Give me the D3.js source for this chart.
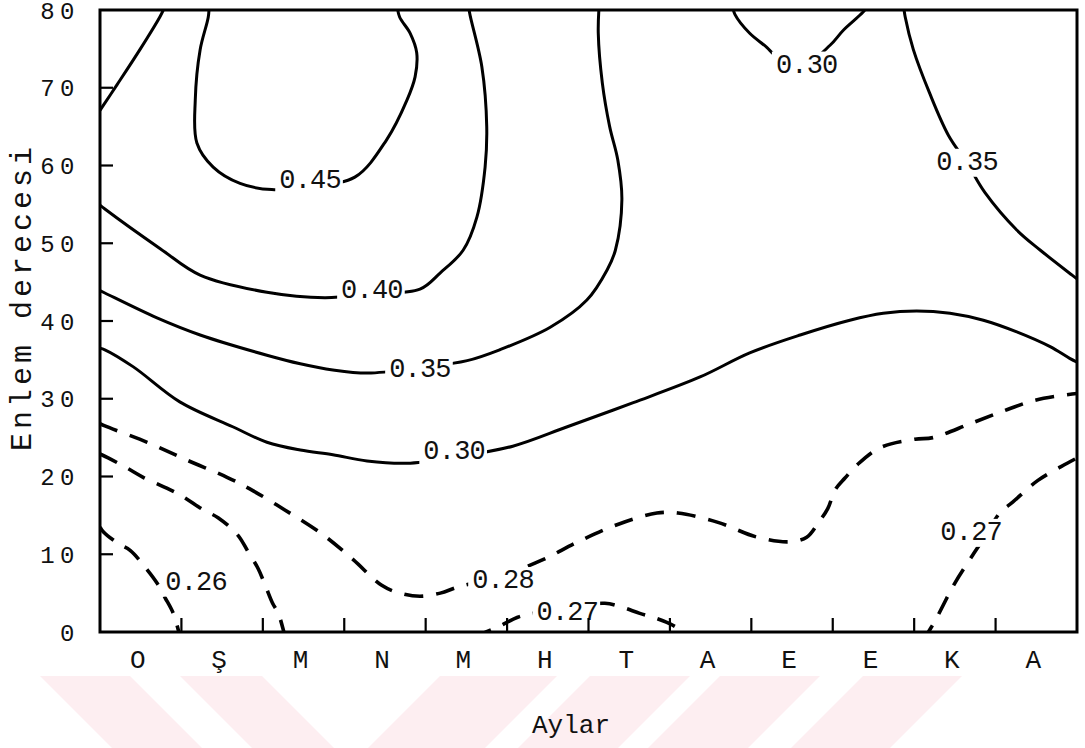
<!DOCTYPE html>
<html>
<head>
<meta charset="utf-8">
<script src="https://cdn.jsdelivr.net/npm/d3@7"></script>
<style>
  html, body { margin: 0; background: #fff; }
  svg { display: block; }
</style>
</head>
<body>
<svg id="chart" width="1085" height="748"></svg>
<script>
// Month initials, October through September
const months = ["O", "Ş", "M", "N", "M", "H", "T", "A", "E", "E", "K", "A"];
const monthTicks = [1, 2, 3, 4, 5, 6, 7, 8, 9, 10, 11];
const latitudeTicks = [0, 10, 20, 30, 40, 50, 60, 70, 80];

// Isolines as [month position, latitude] traces
const iso050 = [[0, 67.1], [0.21, 70.4], [0.49, 74.9], [0.74, 79.2], [0.80, 80.5]];
const iso045 = [[1.34, 80.5], [1.33, 79.1], [1.23, 74.9], [1.17, 68.4], [1.19, 62.9], [1.39, 59.8],
  [1.72, 57.7], [2.11, 56.9], [2.58, 57.4], [3.13, 58.5], [3.52, 63.3], [3.77, 68.4],
  [3.87, 71.4], [3.89, 74.5], [3.81, 77.0], [3.68, 79.1], [3.65, 80.5]];
const iso040 = [[0, 54.9], [0.06, 54.4], [0.74, 49.3], [1.23, 45.9], [2.05, 43.7], [2.76, 43.0],
  [3.34, 43.5], [3.93, 44.1], [4.18, 46.2], [4.46, 49.1], [4.63, 53.4], [4.73, 59.8],
  [4.75, 65.0], [4.69, 72.7], [4.54, 79.6], [4.53, 80.5]];
const iso035a = [[0, 43.9], [0.06, 43.6], [0.70, 40.4], [1.23, 38.2], [2.05, 35.6], [2.46, 34.5],
  [2.86, 33.7], [3.29, 33.3], [3.93, 34.0], [4.51, 34.9], [4.91, 36.3], [5.53, 39.2],
  [5.98, 42.7], [6.23, 46.6], [6.33, 49.1], [6.41, 55.6], [6.36, 60.7], [6.26, 65.0],
  [6.17, 70.6], [6.12, 77.0], [6.13, 80.5]];
const iso035b = [[9.87, 80.5], [9.89, 79.1], [9.99, 74.9], [10.19, 69.3], [10.42, 63.9],
  [10.65, 60.3], [10.87, 56.5], [11.26, 51.7], [11.55, 49.1], [11.94, 45.9], [12.04, 45.1]];
const iso030a = [[0, 36.5], [0.06, 36.3], [0.41, 34.1], [0.98, 29.6], [1.63, 26.4], [2.05, 24.4],
  [2.46, 23.4], [2.86, 22.8], [3.28, 22.0], [3.77, 21.7], [4.36, 22.5], [5.07, 23.9],
  [5.74, 26.4], [6.55, 29.5], [7.37, 32.8], [7.98, 35.9], [8.60, 38.2], [9.21, 40.1],
  [9.62, 41.0], [10.03, 41.3], [10.44, 41.0], [10.85, 40.1], [11.26, 38.6], [11.67, 36.7],
  [11.91, 35.2], [12.04, 34.5]];
const iso030b = [[7.77, 80.5], [7.80, 79.4], [7.98, 77.0], [8.19, 75.2], [8.29, 74.2],
  [8.66, 73.1], [8.97, 75.5], [9.13, 77.4], [9.37, 79.7], [9.43, 80.5]];
const iso028 = [[0, 26.8], [0.06, 26.5], [0.58, 24.4], [1.07, 22.1], [1.56, 19.9], [1.84, 18.4],
  [2.27, 15.7], [2.74, 12.5], [3.11, 9.3], [3.46, 6.0], [3.68, 5.0], [3.93, 4.6], [4.18, 5.0],
  [4.40, 5.8], [4.95, 7.3], [5.44, 9.3], [5.87, 11.6], [6.35, 13.8], [6.84, 15.3], [7.10, 15.3],
  [7.59, 14.1], [8.07, 12.2], [8.47, 11.6], [8.68, 12.2], [8.82, 14.0], [8.94, 15.9],
  [9.03, 18.3], [9.15, 19.8], [9.30, 21.5], [9.58, 23.7], [10.01, 24.8], [10.23, 25.0],
  [10.69, 26.8], [11.09, 28.4], [11.48, 29.8], [11.94, 30.6], [12.04, 30.7]];
const iso027a = [[0, 22.9], [0.10, 22.4], [0.33, 21.1], [0.53, 19.9], [0.82, 18.5], [1.02, 17.4],
  [1.27, 15.7], [1.45, 14.7], [1.69, 12.5], [1.82, 10.3], [1.94, 8.2], [2.03, 6.0],
  [2.12, 3.7], [2.19, 2.4], [2.27, -0.4], [2.30, -1.3]];
const iso027b = [[4.64, -1.3], [4.69, -0.3], [4.88, 0.6], [5.13, 1.9], [5.32, 2.4], [5.74, 3.1],
  [6.20, 3.7], [6.41, 3.2], [6.63, 2.4], [6.82, 1.8], [7.03, 0.9], [7.19, -0.3], [7.22, -1.3]];
const iso027c = [[10.12, -1.3], [10.16, -0.3], [10.26, 1.5], [10.50, 6.3], [10.72, 9.9],
  [10.89, 12.6], [11.05, 15.3], [11.21, 16.7], [11.52, 19.5], [11.88, 21.7], [12.04, 22.6]];
const iso026 = [[0, 13.5], [0.04, 12.9], [0.22, 11.4], [0.37, 10.5], [0.58, 8.0], [0.70, 6.3],
  [0.80, 4.4], [0.90, 2.4], [0.98, -0.4], [1.01, -1.3]];

// Values above 0.28 are drawn solid, the rest dashed
const isolines = [
  { value: 0.50, pts: iso050 }, { value: 0.45, pts: iso045 }, { value: 0.40, pts: iso040 },
  { value: 0.35, pts: iso035a }, { value: 0.35, pts: iso035b },
  { value: 0.30, pts: iso030a }, { value: 0.30, pts: iso030b },
  { value: 0.28, pts: iso028 },
  { value: 0.27, pts: iso027a }, { value: 0.27, pts: iso027b }, { value: 0.27, pts: iso027c },
  { value: 0.26, pts: iso026 }
];

// Where each isoline value is written: [month position, latitude]
const isoLabels = [
  { value: 0.45, at: [2.58, 58.4] }, { value: 0.40, at: [3.34, 44.2] },
  { value: 0.35, at: [3.93, 34.1] }, { value: 0.30, at: [4.35, 23.5] },
  { value: 0.35, at: [10.65, 60.7] }, { value: 0.30, at: [8.68, 73.2] },
  { value: 0.28, at: [4.95, 6.9] }, { value: 0.26, at: [1.18, 6.7] },
  { value: 0.27, at: [5.74, 2.8] }, { value: 0.27, at: [10.70, 13.1] }
];

// Light diagonal bands of the page backdrop: top-left x, width, lean
const backdropBands = [
  { x0: 40, w: 90, lean: 1 }, { x0: 180, w: 82, lean: 1 },
  { x0: 440, w: 117, lean: -1 }, { x0: 590, w: 100, lean: -1 },
  { x0: 720, w: 100, lean: -1 }, { x0: 863, w: 99, lean: -1 }
];

(function draw() {
  const svg = d3.select("#chart");
  const plotLeft = 100, plotRight = 1077, plotTop = 10, plotBottom = 632;

  const x = d3.scaleLinear().domain([0, 12]).range([plotLeft, plotRight]);
  const y = d3.scaleLinear().domain([0, 80]).range([plotBottom, plotTop]);

  // backdrop
  const bandTop = 676, bandBottom = 748, bandH = bandBottom - bandTop;
  svg.append("g").selectAll("polygon").data(backdropBands).join("polygon")
    .attr("fill", "#fdeef1")
    .attr("points", d => [
      [d.x0, bandTop], [d.x0 + d.w, bandTop],
      [d.x0 + d.w + d.lean * bandH, bandBottom], [d.x0 + d.lean * bandH, bandBottom]
    ].map(p => p.join(",")).join(" "));

  svg.append("clipPath").attr("id", "plotClip")
    .append("rect").attr("x", plotLeft).attr("y", plotTop)
    .attr("width", plotRight - plotLeft).attr("height", plotBottom - plotTop);

  // isolines
  const line = d3.line()
    .x(d => x(d[0])).y(d => y(d[1]))
    .curve(d3.curveCatmullRom.alpha(0.5));

  svg.append("g").attr("clip-path", "url(#plotClip)")
    .selectAll("path").data(isolines).join("path")
    .attr("d", d => line(d.pts))
    .attr("fill", "none")
    .attr("stroke", "#000")
    .attr("stroke-width", d => d.value > 0.28 ? 3 : 3.6)
    .attr("stroke-dasharray", d => d.value > 0.28 ? null : "19,13")
    .attr("stroke-linecap", "butt")
    .attr("stroke-linejoin", "round");

  // isoline value labels on a white patch that breaks the line
  const fmt = d3.format(".2f");
  const labelG = svg.append("g");
  isoLabels.forEach(l => {
    const g = labelG.append("g");
    const t = g.append("text")
      .attr("x", x(l.at[0])).attr("y", y(l.at[1]))
      .attr("dy", "0.36em")
      .attr("text-anchor", "middle")
      .attr("font-family", "'Liberation Mono', 'DejaVu Sans Mono', monospace")
      .attr("font-size", 27)
      .attr("letter-spacing", -0.8)
      .attr("fill", "#111")
      .text(fmt(l.value));
    const b = t.node().getBBox();
    g.insert("rect", "text")
      .attr("x", b.x - 4).attr("y", b.y + 1)
      .attr("width", b.width + 6).attr("height", b.height - 2)
      .attr("fill", "#fff");
  });

  // frame
  svg.append("rect")
    .attr("x", plotLeft).attr("y", plotTop)
    .attr("width", plotRight - plotLeft).attr("height", plotBottom - plotTop)
    .attr("fill", "none").attr("stroke", "#000").attr("stroke-width", 3);

  // inward ticks
  svg.append("g").selectAll("line").data(latitudeTicks.slice(1, -1)).join("line")
    .attr("x1", plotLeft).attr("x2", plotLeft + 13)
    .attr("y1", d => y(d)).attr("y2", d => y(d))
    .attr("stroke", "#000").attr("stroke-width", 2.2);
  svg.append("g").selectAll("line").data(monthTicks).join("line")
    .attr("x1", d => x(d)).attr("x2", d => x(d))
    .attr("y1", plotBottom).attr("y2", plotBottom - 14)
    .attr("stroke", "#000").attr("stroke-width", 2.2);

  // latitude tick labels
  svg.append("g").selectAll("text").data(latitudeTicks).join("text")
    .attr("x", plotLeft - 20).attr("y", d => y(d))
    .attr("dy", "0.36em")
    .attr("text-anchor", "end")
    .attr("font-family", "'Liberation Mono', monospace")
    .attr("font-size", 24)
    .attr("letter-spacing", 5.5)
    .attr("fill", "#111")
    .text(d => d);

  // month labels
  svg.append("g").selectAll("text").data(months).join("text")
    .attr("x", (d, i) => x(i + 0.5) - 3).attr("y", plotBottom + 36)
    .attr("text-anchor", "middle")
    .attr("font-family", "'Liberation Mono', monospace")
    .attr("font-size", 26)
    .attr("fill", "#111")
    .text(d => d);

  // axis titles
  svg.append("text")
    .attr("x", 571).attr("y", 733)
    .attr("text-anchor", "middle")
    .attr("font-family", "'Liberation Mono', monospace")
    .attr("font-size", 26)
    .attr("fill", "#111")
    .text("Aylar");

  svg.append("text")
    .attr("transform", "translate(31,297) rotate(-90)")
    .attr("text-anchor", "middle")
    .attr("font-family", "'Liberation Mono', monospace")
    .attr("font-size", 30)
    .attr("letter-spacing", 4)
    .attr("fill", "#111")
    .text("Enlem derecesi");
})();
</script>
</body>
</html>
